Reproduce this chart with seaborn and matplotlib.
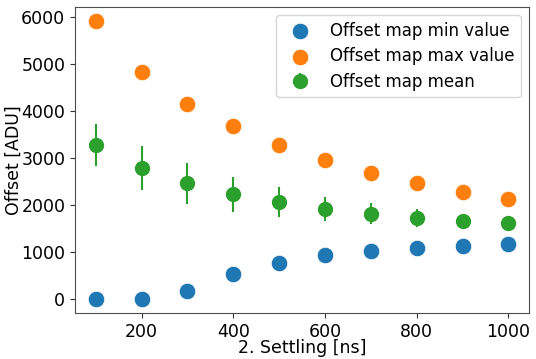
import numpy as np
import pandas as pd
import matplotlib
matplotlib.use("Agg")
import matplotlib.pyplot as plt
import seaborn as sns

# settling times [ns]
settling = [100, 200, 300, 400, 500, 600, 700, 800, 900, 1000]

# offset map statistics [ADU]
min_values = [0, 0, 170, 535, 760, 930, 1020, 1090, 1130, 1170]
max_values = [5925, 4825, 4155, 3680, 3290, 2957, 2695, 2468, 2277, 2128]
mean_values = [3283, 2794, 2461, 2234, 2064, 1922, 1815, 1730, 1666, 1617]
mean_err = [450, 475, 430, 375, 312, 262, 222, 190, 140, 110]

df = pd.DataFrame({
    "settling": settling,
    "min": min_values,
    "max": max_values,
    "mean": mean_values,
    "err": mean_err,
})

sns.set_style("ticks", {"text.color": "black", "xtick.color": "0.2",
                        "ytick.color": "0.2", "axes.labelcolor": "black",
                        "axes.edgecolor": "0.3"})
plt.rcParams["font.family"] = ["DejaVu Sans"]

fig, ax = plt.subplots(figsize=(5.36, 3.59), dpi=100)

sns.scatterplot(data=df, x="settling", y="min", s=140, color="#1f77b4",
                edgecolor="white", linewidth=0.5, label="Offset map min value", ax=ax)
sns.scatterplot(data=df, x="settling", y="max", s=140, color="#ff7f0e",
                edgecolor="white", linewidth=0.5, label="Offset map max value", ax=ax)
ax.errorbar(df["settling"], df["mean"], yerr=df["err"], fmt="o", color="#2ca02c",
            markersize=10, elinewidth=1.5, label="Offset map mean")

ax.set_xlabel("2. Settling [ns]", fontsize=12.5, labelpad=-1)
ax.set_ylabel("Offset [ADU]", fontsize=12.5, labelpad=-1)
ax.tick_params(labelsize=12.5, labelcolor="black")
ax.set_xticks([200, 400, 600, 800, 1000])
ax.set_yticks([0, 1000, 2000, 3000, 4000, 5000, 6000])
ax.legend(fontsize=12, loc="upper right", labelspacing=0.45)

fig.subplots_adjust(left=0.14, right=0.987, top=0.981, bottom=0.128)
fig.savefig("out.png", dpi=100)
